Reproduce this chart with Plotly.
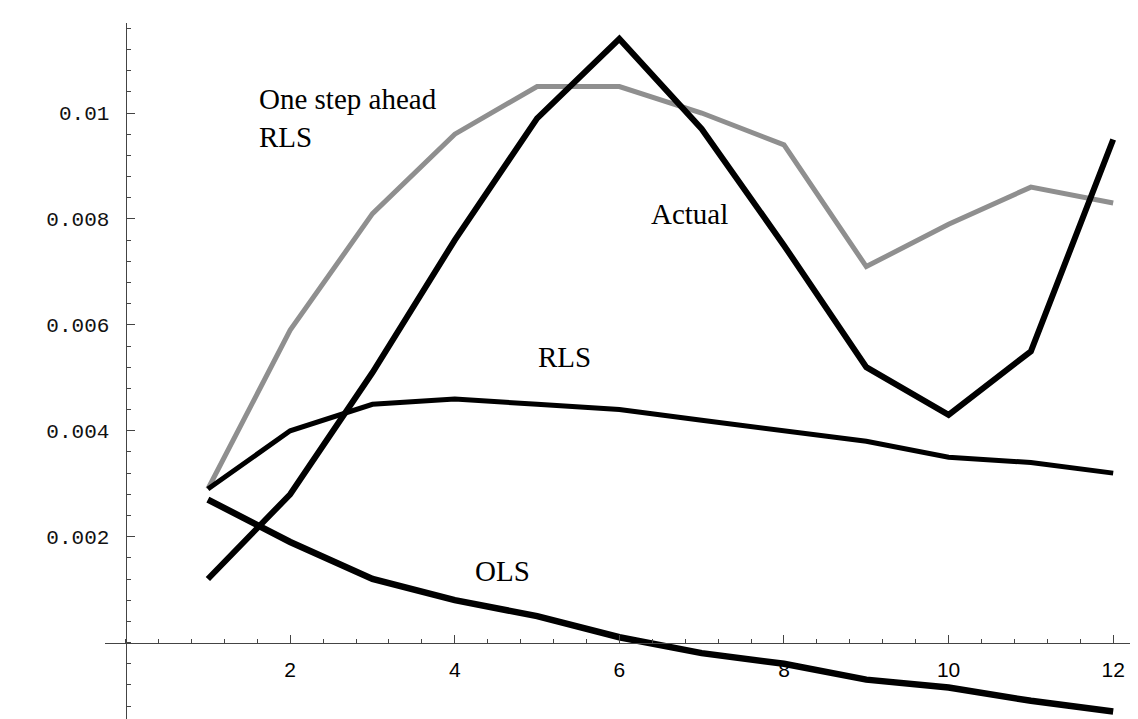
import plotly.graph_objects as go

# ---- data ----
x_vals = [1, 2, 3, 4, 5, 6, 7, 8, 9, 10, 11, 12]
actual = [0.0012, 0.0028, 0.0051, 0.0076, 0.0099, 0.0114, 0.0097, 0.0075, 0.0052, 0.0043, 0.0055, 0.0095]
one_step_rls = [0.0029, 0.0059, 0.0081, 0.0096, 0.0105, 0.0105, 0.0100, 0.0094, 0.0071, 0.0079, 0.0086, 0.0083]
rls = [0.0029, 0.0040, 0.0045, 0.0046, 0.0045, 0.0044, 0.0042, 0.0040, 0.0038, 0.0035, 0.0034, 0.0032]
ols = [0.0027, 0.0019, 0.0012, 0.0008, 0.0005, 0.0001, -0.0002, -0.0004, -0.0007, -0.00085, -0.0011, -0.0013]

x_ticks = [2, 4, 6, 8, 10, 12]
x_tick_text = ["2", "4", "6", "8", "10", "12"]
y_ticks = [0.002, 0.004, 0.006, 0.008, 0.01]
y_tick_text = ["0.002", "0.004", "0.006", "0.008", "0.01"]
x_minor = [round(0.4 * i, 2) for i in range(0, 31)]
y_minor = [round(-0.0012 + 0.0004 * i, 5) for i in range(0, 33)]

labels = [
    ("One step ahead<br>RLS", 1.6, 0.0099, "left"),
    ("Actual", 6.85, 0.0081, "center"),
    ("RLS", 5.33, 0.0054, "center"),
    ("OLS", 4.58, 0.00135, "center"),
]

x_range = [-0.25, 12.35]
y_range = [-0.0015, 0.0117]

fig = go.Figure()
fig.add_trace(go.Scatter(x=x_vals, y=one_step_rls, mode="lines",
                         line=dict(color="#8f8f8f", width=5), name="One step ahead RLS"))
fig.add_trace(go.Scatter(x=x_vals, y=actual, mode="lines",
                         line=dict(color="black", width=6), name="Actual"))
fig.add_trace(go.Scatter(x=x_vals, y=rls, mode="lines",
                         line=dict(color="black", width=5), name="RLS"))
fig.add_trace(go.Scatter(x=x_vals, y=ols, mode="lines",
                         line=dict(color="black", width=6.5), name="OLS"))

for text, ax, ay, align in labels:
    fig.add_annotation(x=ax, y=ay, text=text, showarrow=False,
                       xanchor="left" if align == "left" else "center",
                       align=align,
                       font=dict(family="Liberation Serif", size=29, color="black"))

xpos = (0 - y_range[0]) / (y_range[1] - y_range[0])
ypos = (0 - x_range[0]) / (x_range[1] - x_range[0])

fig.update_layout(
    width=1138, height=719,
    margin=dict(l=97, r=4, t=15, b=5),
    paper_bgcolor="white", plot_bgcolor="white",
    showlegend=False,
    xaxis=dict(range=x_range, anchor="free", position=xpos, showgrid=False, zeroline=False,
               showline=True, linecolor="#444", linewidth=1,
               tickvals=x_ticks, ticktext=x_tick_text, ticks="inside", ticklen=8,
               tickcolor="#444", tickwidth=1, ticklabelstandoff=8,
               tickfont=dict(family="Liberation Sans", size=21, color="black"),
               minor=dict(tickvals=x_minor, ticks="inside", ticklen=4, tickcolor="#444", showgrid=False)),
    yaxis=dict(range=y_range, anchor="free", position=ypos, showgrid=False, zeroline=False,
               showline=True, linecolor="#444", linewidth=1,
               tickvals=y_ticks, ticktext=y_tick_text, ticks="inside", ticklen=8,
               tickcolor="#444", tickwidth=1, ticklabelstandoff=12,
               tickfont=dict(family="Liberation Mono", size=21, color="#111"),
               minor=dict(tickvals=y_minor, ticks="inside", ticklen=4, tickcolor="#444", showgrid=False)),
)

fig.write_html("out.html")
